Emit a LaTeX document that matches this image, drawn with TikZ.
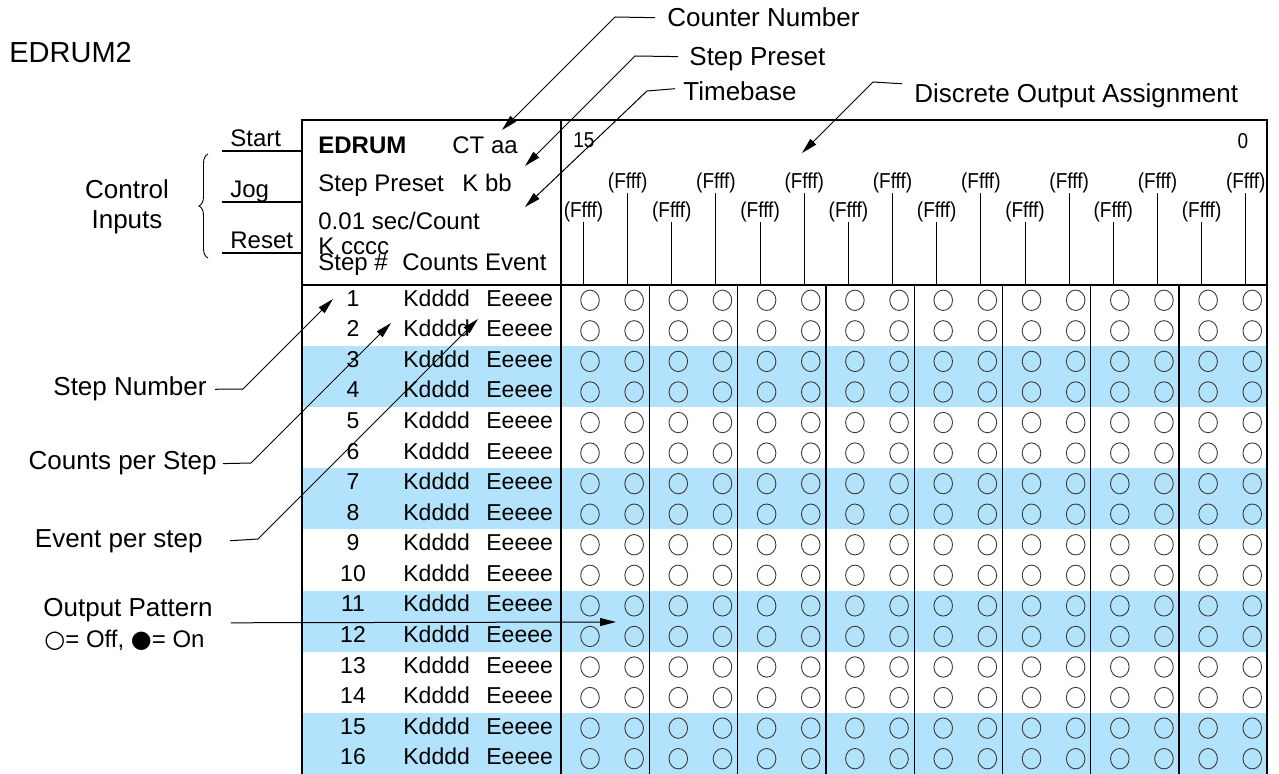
\documentclass[tikz,border=0pt]{standalone}
\usepackage{fontspec}
\setmainfont{Liberation Sans}
\newfontfamily\symfont{DejaVu Sans}
\newfontfamily\narrowfont[FakeStretch=0.88]{Liberation Sans}
\usetikzlibrary{arrows.meta,positioning,calc,decorations.pathreplacing}
\definecolor{bandblue}{HTML}{B3E2FD}
\definecolor{ringgray}{HTML}{3A3A3A}

\begin{document}
\begin{tikzpicture}[x=0.5pt,y=-0.5pt,
  lbl/.style={font=\fontsize{13}{15}\selectfont,inner sep=0pt},
  hdr/.style={font=\fontsize{12}{14}\selectfont,inner sep=0pt,anchor=base west},
  cell/.style={font=\fontsize{11.5}{13}\selectfont,inner sep=0pt},
  bit/.style={font=\narrowfont\fontsize{10.8}{12}\selectfont,inner sep=0pt},
  arr/.style={-{Triangle[length=8pt,width=4pt]},line width=0.5pt},
  grid/.style={line width=0.65pt},
  tick/.style={line width=0.5pt},
  ring/.style={draw=ringgray,line width=0.45pt}
]
  \useasboundingbox (0,0) rectangle (1279,774);

  % Title
  \node[lbl,anchor=base west,font=\fontsize{14.5}{16}\selectfont] (title) at (9,63) {EDRUM2};

  % Shaded step bands
  \foreach \b in {3,7,11,15}
    \fill[bandblue] (302,{285+30.56*(\b-1)}) rectangle (1267,{285+30.56*(\b+1)});

  % Frame
  \coordinate (hline) at (0,285);
  \draw[grid] (302,774) -- (302,120) -- (1267,120) -- (1267,774);
  \draw[grid] (302,285) -- (1267,285);
  \draw[grid] (561,120) -- (561,774);
  \foreach \g in {1,...,7}
    \draw[grid] ({561+88.3*\g},285) -- ({561+88.3*\g},774);

  % Box header
  \node[hdr,font=\bfseries\fontsize{12}{14}\selectfont] (edrum) at (318,154) {EDRUM};
  \node[hdr] (ctaa) at (452,154) {CT aa};
  \node[hdr] (spre) at (318,192) {Step Preset};
  \node[hdr] (kbb) at (462,192) {K bb};
  \node[hdr] (secc) at (318,230) {0.01 sec/Count};
  \node[hdr] (kccc) at (318,255) {K cccc};
  \node[hdr] (stepno) at (318,271) {Step \#};
  \node[hdr] (cntev) at (402,271) {Counts Event};

  % Bit numbers and output assignments
  \node[bit,anchor=west] (b15) at (573,140) {15};
  \node[bit] (b0) at (1243,141) {0};
  \foreach \c in {0,...,15} {
    \pgfmathsetmacro\fy{isodd(\c) ? 183 : 212}
    \node[bit] (f\c) at ({583.5+44.15*\c},\fy) {(Ffff)};
    \draw[tick] (f\c.south) -- (f\c.south |- hline);
  }

  % Step rows
  \foreach \i in {1,...,16} {
    \pgfmathsetmacro\ry{285+30.56*(\i-0.5)}
    \node[cell,anchor=base] (n\i) at (353,\ry+6) {\i};
    \node[cell,anchor=base west] (k\i) at (403,\ry+6) {Kdddd};
    \node[cell,anchor=base west] (e\i) at (486,\ry+6) {Eeeee};
    \foreach \c in {0,...,15}
      \draw[ring] ({590+44.15*\c},\ry) ellipse [x radius=4.65pt, y radius=5.1pt];
  }

  % Control inputs
  \foreach \nm/\yy in {Start/151,Jog/202,Reset/253} {
    \coordinate (a\nm) at (222,\yy);
    \coordinate (b\nm) at (302,\yy);
    \node[hdr] (in\nm) at (230,\yy-4.5) {\nm};
    \draw[grid] (a\nm) -- (b\nm);
  }
  \draw[line width=0.45pt,decorate,decoration={brace,amplitude=4.5pt}] (208,258) -- (208,154);
  \node[lbl,anchor=base] (ctrl) at (127,199) {Control};
  \node[lbl,anchor=base] (inps) at (127,229) {Inputs};

  % Top annotations
  \node[lbl,anchor=base west] (cnum) at (667,27) {Counter Number};
  \node[lbl,anchor=base west] (spset) at (689,66) {Step Preset};
  \node[lbl,anchor=base west] (tbase) at (683,101) {Timebase};
  \node[lbl,anchor=base west] (dout) at (914,103) {Discrete Output Assignment};
  \coordinate (cnumtip) at (502,130);
  \coordinate (spsettip) at (525,166);
  \coordinate (tbasetip) at (525,207);
  \coordinate (douttip) at (802,153);
  \draw[arr] ([xshift=-6pt]cnum.west) -- (615,17) -- (cnumtip);
  \draw[arr] ([xshift=-5.5pt,yshift=1.5pt]spset.west) -- (635,56) -- (spsettip);
  \draw[arr] ([xshift=-4pt,yshift=1.5pt]tbase.west) -- (647,91) -- (tbasetip);
  \draw[arr] ([xshift=-6pt]dout.north west) -- (873,82) -- (douttip);

  % Left annotations
  \node[lbl,anchor=base east] (snum) at (207,396) {Step Number};
  \node[lbl,anchor=base east] (cps) at (217,470) {Counts per Step};
  \node[lbl,anchor=base east] (eps) at (203,547) {Event per step};
  \node[lbl,anchor=base west] (outp) at (43,617) {Output Pattern};
  \node[lbl,anchor=base west,font=\fontsize{12}{14}\selectfont] (onoff) at (44,647)
    {{\symfont ○}= Off, {\symfont ●}= On};
  \coordinate (snumtip) at (333,299);
  \coordinate (cpstip) at (391,323);
  \coordinate (epstip) at (478,319);
  \coordinate (outptip) at (616,622);
  \draw[arr] ([xshift=4pt]snum.east) -- (243,389) -- (snumtip);
  \draw[arr] ([xshift=3pt]cps.east) -- (251,463) -- (cpstip);
  \draw[arr] ([xshift=13.5pt]eps.east) -- (258,539) -- (epstip);
  \draw[arr] ([xshift=9pt]outp.south east) -- (outptip);
\end{tikzpicture}
\end{document}
